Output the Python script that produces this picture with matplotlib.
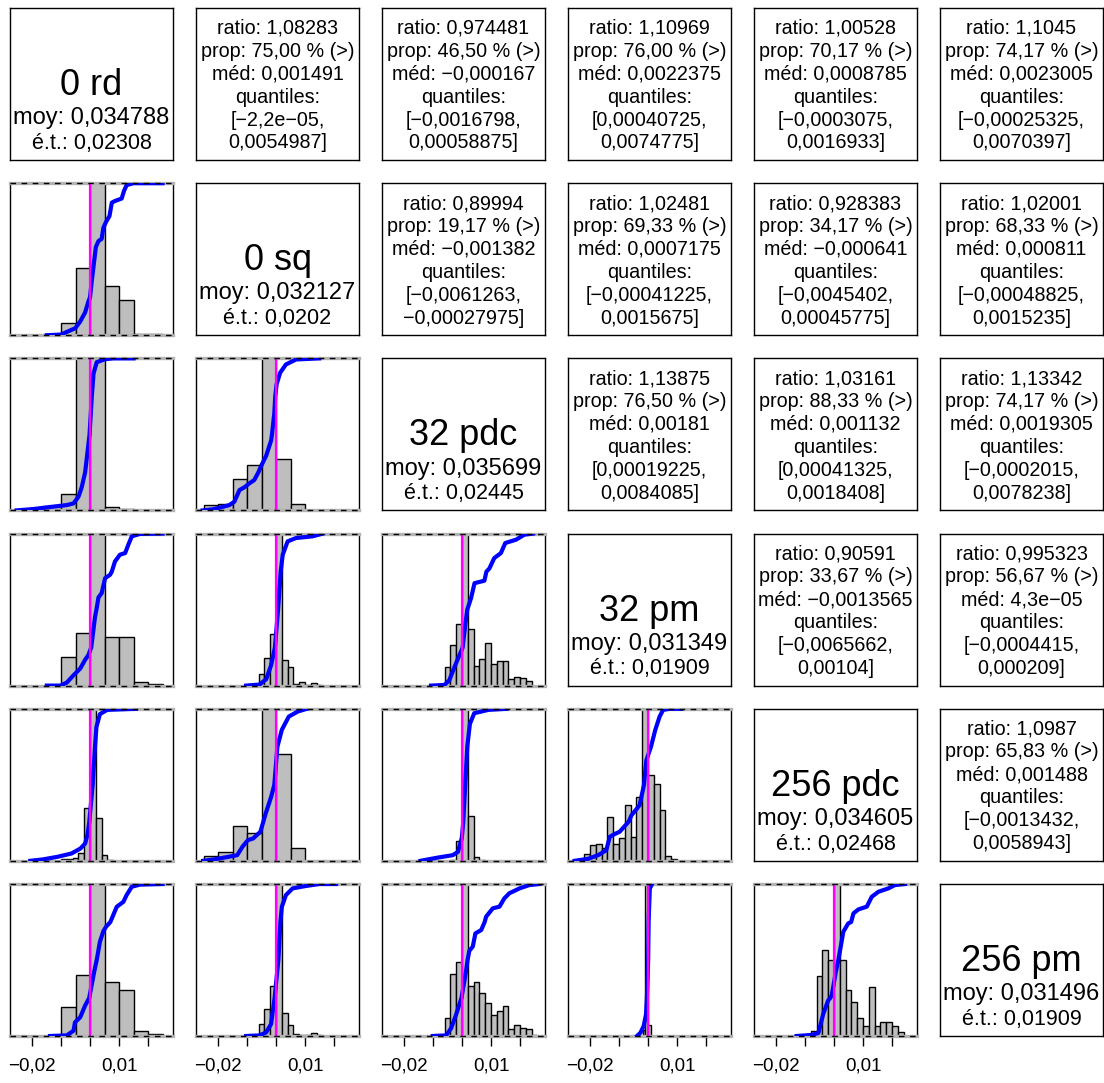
import numpy as np
import matplotlib
matplotlib.use("Agg")
import matplotlib.pyplot as plt

plt.rcParams['font.family'] = ['Liberation Sans', 'DejaVu Sans']

# diagonal: method names and summary
names = ["0 rd", "0 sq", "32 pdc", "32 pm", "256 pdc", "256 pm"]
moy = ["0,034788", "0,032127", "0,035699", "0,031349", "0,034605", "0,031496"]
ecart = ["0,02308", "0,0202", "0,02445", "0,01909", "0,02468", "0,01909"]

# upper triangle: pairwise comparisons (row, col)
pairs = [(0, 1), (0, 2), (0, 3), (0, 4), (0, 5),
         (1, 2), (1, 3), (1, 4), (1, 5),
         (2, 3), (2, 4), (2, 5),
         (3, 4), (3, 5),
         (4, 5)]
ratio = ["1,08283", "0,974481", "1,10969", "1,00528", "1,1045",
         "0,89994", "1,02481", "0,928383", "1,02001",
         "1,13875", "1,03161", "1,13342",
         "0,90591", "0,995323",
         "1,0987"]
prop = ["75,00", "46,50", "76,00", "70,17", "74,17",
        "19,17", "69,33", "34,17", "68,33",
        "76,50", "88,33", "74,17",
        "33,67", "56,67",
        "65,83"]
med = ["0,001491", "−0,000167", "0,0022375", "0,0008785", "0,0023005",
       "−0,001382", "0,0007175", "−0,000641", "0,000811",
       "0,00181", "0,001132", "0,0019305",
       "−0,0013565", "4,3e−05",
       "0,001488"]
q_low = ["−2,2e−05", "−0,0016798", "0,00040725", "−0,0003075", "−0,00025325",
         "−0,0061263", "−0,00041225", "−0,0045402", "−0,00048825",
         "0,00019225", "0,00041325", "−0,0002015",
         "−0,0065662", "−0,0004415",
         "−0,0013432"]
q_high = ["0,0054987", "0,00058875", "0,0074775", "0,0016933", "0,0070397",
          "−0,00027975", "0,0015675", "0,00045775", "0,0015235",
          "0,0084085", "0,0018408", "0,0078238",
          "0,00104", "0,000209",
          "0,0058943"]

# lower triangle: histograms (scaled heights) and empirical cdf of differences
edges_10 = [-0.01, -0.005, 0, 0.005, 0.01, 0.015, 0.02, 0.025]
heights_10 = [0.079, 0.445, 1.3, 0.326, 0.233, 0.005, 0.008]
ecdf_x_10 = [-0.0149, -0.0101, -0.0051, -0.0034, -0.0017, -0.0006, 0.0, 0.0006, 0.0015, 0.0020,
             0.0029, 0.0040, 0.0046, 0.0055, 0.0067, 0.0075, 0.0086, 0.0109, 0.0117, 0.0126, 0.0149, 0.025]
ecdf_y_10 = [0, 0.004, 0.046, 0.09, 0.15, 0.22, 0.25, 0.36, 0.50, 0.58,
             0.619, 0.634, 0.707, 0.745, 0.784, 0.872, 0.883, 0.899, 0.949, 0.987, 1.0, 1.0]

edges_20 = [-0.02, -0.015, -0.01, -0.005, 0, 0.005, 0.01, 0.015]
heights_20 = [0.011, 0.031, 0.106, 1.3, 1.3, 0.02, 0.007]
ecdf_x_20 = [-0.0253, -0.0195, -0.0149, -0.0080, -0.0057, -0.0040, -0.0029, -0.0017, -0.0009,
             -0.00017, 0.0006, 0.0012, 0.0023, 0.0052, 0.008, 0.015]
ecdf_y_20 = [0, 0.009, 0.02, 0.035, 0.046, 0.09, 0.15, 0.25, 0.38,
             0.5, 0.75, 0.9, 0.975, 0.995, 1, 1]

edges_21 = [-0.025, -0.02, -0.015, -0.01, -0.005, 0, 0.005, 0.01]
heights_21 = [0.033, 0.04, 0.205, 0.3, 1.3, 0.337, 0.04]
ecdf_x_21 = [-0.0253, -0.0218, -0.0161, -0.0144, -0.0126, -0.0109, -0.0092, -0.0075, -0.0061,
             -0.0052, -0.0034, -0.0017, -0.0014, -0.0006, -0.00028, 0.0002, 0.0014, 0.0034,
             0.0069, 0.0149]
ecdf_y_21 = [0, 0.007, 0.035, 0.057, 0.134, 0.152, 0.178, 0.2, 0.25,
             0.29, 0.36, 0.46, 0.5, 0.64, 0.75, 0.83, 0.905, 0.96,
             0.993, 1]

edges_30 = [-0.01, -0.005, 0, 0.005, 0.01, 0.015, 0.02, 0.025]
heights_30 = [0.187, 0.344, 1.3, 0.319, 0.319, 0.024, 0.011]
ecdf_x_30 = [-0.0149, -0.0103, -0.008, -0.0057, -0.0034, -0.0017, -0.0006, 0.0004, 0.0017,
             0.0022, 0.0029, 0.0040, 0.0052, 0.0069, 0.0075, 0.0086, 0.0103, 0.0121, 0.0132,
             0.0144, 0.0172, 0.025]
ecdf_y_30 = [0, 0, 0.02, 0.068, 0.112, 0.17, 0.2, 0.25, 0.45,
             0.5, 0.58, 0.608, 0.707, 0.729, 0.75, 0.817, 0.861, 0.872, 0.927,
             0.982, 0.998, 1]

edges_31 = [-0.006, -0.004, -0.002, 0, 0.002, 0.004, 0.006, 0.008, 0.010, 0.012, 0.014, 0.016]
heights_31 = [0.075, 0.183, 0.337, 1.3, 0.167, 0.123, 0.013, 0.024, 0.007, 0.02, 0.007]
ecdf_x_31 = [-0.0103, -0.0057, -0.0034, -0.0017, -0.0004, 0.0007, 0.0016, 0.0023, 0.0040,
             0.0069, 0.0126, 0.0161]
ecdf_y_31 = [0, 0.007, 0.042, 0.134, 0.25, 0.5, 0.75, 0.861, 0.949,
             0.971, 0.982, 1]

edges_32 = [-0.006, -0.004, -0.002, 0, 0.002, 0.004, 0.006, 0.008, 0.010, 0.012, 0.014,
            0.016, 0.018, 0.020, 0.022, 0.024]
heights_32 = [0.123, 0.267, 0.405, 1.3, 0.374, 0.128, 0.176, 0.278, 0.145, 0.159, 0.163,
              0.044, 0.057, 0.051, 0.031]
ecdf_x_32 = [-0.0107, -0.0061, -0.0044, -0.0026, -0.0009, 0.0002, 0.0008, 0.0018, 0.0031,
             0.0043, 0.0077, 0.0084, 0.0094, 0.0111, 0.0134, 0.0149, 0.0186, 0.0215, 0.0245]
ecdf_y_32 = [0, 0.004, 0.035, 0.123, 0.2, 0.25, 0.35, 0.5, 0.575,
             0.674, 0.69, 0.75, 0.77, 0.839, 0.872, 0.938, 0.96, 0.993, 1]

edges_40 = [-0.01, -0.008, -0.006, -0.004, -0.002, 0, 0.002, 0.004, 0.006, 0.008]
heights_40 = [0.01, 0.01, 0.02, 0.05, 0.345, 1.3, 0.279, 0.037, 0.005]
ecdf_x_40 = [-0.0206, -0.0163, -0.0113, -0.0064, -0.0033, -0.0017, -0.0009, -0.0003, 0.0009,
             0.0017, 0.0022, 0.0034, 0.0059, 0.0158]
ecdf_y_40 = [0, 0.009, 0.026, 0.048, 0.081, 0.114, 0.17, 0.25, 0.5,
             0.75, 0.88, 0.965, 0.993, 1]

edges_41 = [-0.025, -0.02, -0.015, -0.01, -0.005, 0, 0.005, 0.01]
heights_41 = [0.033, 0.057, 0.229, 0.185, 1.3, 0.701, 0.081]
ecdf_x_41 = [-0.0251, -0.0214, -0.0165, -0.0134, -0.0116, -0.0097, -0.0079, -0.0054, -0.0045,
             -0.0036, -0.0017, -0.0006, 0.00046, 0.002, 0.0044, 0.0075, 0.0106]
ecdf_y_41 = [0, 0.009, 0.026, 0.037, 0.092, 0.136, 0.147, 0.191, 0.25,
             0.31, 0.42, 0.5, 0.75, 0.862, 0.949, 0.982, 1]

edges_42 = [-0.004, -0.002, 0, 0.002, 0.004, 0.006, 0.008]
heights_42 = [0.005, 0.132, 1.3, 0.295, 0.026, 0.008]
ecdf_x_42 = [-0.0143, -0.0081, -0.0032, -0.0014, -0.0001, 0.0004, 0.0011, 0.0018, 0.0027,
             0.0042, 0.0091, 0.0153]
ecdf_y_42 = [0, 0.022, 0.037, 0.059, 0.15, 0.25, 0.5, 0.75, 0.9,
             0.971, 0.993, 1]

edges_43 = [-0.024, -0.022, -0.020, -0.018, -0.016, -0.014, -0.012, -0.010, -0.008, -0.006,
            -0.004, -0.002, 0, 0.002, 0.004, 0.006, 0.008, 0.010]
heights_43 = [0.015, 0.048, 0.101, 0.11, 0.081, 0.286, 0.108, 0.147, 0.365, 0.158,
              0.422, 1.3, 0.563, 0.505, 0.334, 0.031, 0.009]
ecdf_x_43 = [-0.0253, -0.0207, -0.0172, -0.0144, -0.0132, -0.0115, -0.0098, -0.0075, -0.0066,
             -0.0057, -0.0044, -0.0029, -0.0014, -0.0006, 0.0010, 0.0025, 0.004, 0.0052,
             0.0075, 0.0115]
ecdf_y_43 = [0, 0.013, 0.037, 0.07, 0.158, 0.176, 0.191, 0.24, 0.26,
             0.3, 0.33, 0.367, 0.5, 0.66, 0.75, 0.862, 0.949, 0.993,
             1, 1]

edges_50 = [-0.01, -0.005, 0, 0.005, 0.01, 0.015, 0.02, 0.025]
heights_50 = [0.194, 0.401, 1.3, 0.352, 0.304, 0.033, 0.013]
ecdf_x_50 = [-0.0138, -0.008, -0.0057, -0.0052, -0.0034, -0.0017, -0.0003, 0.0014, 0.0023,
             0.0034, 0.0046, 0.0055, 0.0070, 0.0092, 0.0115, 0.0126, 0.0144, 0.0172, 0.025]
ecdf_y_50 = [0, 0.004, 0.035, 0.09, 0.123, 0.2, 0.25, 0.42, 0.5,
             0.62, 0.69, 0.718, 0.75, 0.85, 0.883, 0.927, 0.982, 0.996, 1]

edges_51 = [-0.006, -0.004, -0.002, 0, 0.002, 0.004, 0.006, 0.008, 0.010, 0.012, 0.014, 0.016]
heights_51 = [0.079, 0.176, 0.33, 1.3, 0.15, 0.07, 0.013, 0.009, 0.005, 0.02, 0.005]
ecdf_x_51 = [-0.0103, -0.0057, -0.0034, -0.0017, -0.0005, 0.0008, 0.0015, 0.0020, 0.0034,
             0.0057, 0.0103, 0.0149, 0.0207]
ecdf_y_51 = [0, 0.004, 0.024, 0.079, 0.25, 0.5, 0.75, 0.85, 0.927,
             0.971, 0.987, 1, 1]

edges_52 = [-0.006, -0.004, -0.002, 0, 0.002, 0.004, 0.006, 0.008, 0.010, 0.012, 0.014,
            0.016, 0.018, 0.020, 0.022, 0.024, 0.026]
heights_52 = [0.116, 0.408, 0.489, 1.3, 0.331, 0.357, 0.285, 0.215, 0.138, 0.164, 0.195,
              0.044, 0.072, 0.055, 0.046, 0.007]
ecdf_x_52 = [-0.0101, -0.0055, -0.0038, -0.0021, -0.0002, 0.0014, 0.0019, 0.0025, 0.0037,
             0.0046, 0.0066, 0.0078, 0.0083, 0.0106, 0.0129, 0.0146, 0.0163, 0.0198,
             0.0232, 0.0267]
ecdf_y_52 = [0, 0.004, 0.05, 0.138, 0.25, 0.43, 0.5, 0.56, 0.588,
             0.675, 0.697, 0.75, 0.785, 0.84, 0.851, 0.906, 0.939, 0.971,
             0.993, 1]

edges_53 = [-0.0018, -0.0009, 0, 0.0009]
heights_53 = [0.04, 1.5, 0.073]
ecdf_x_53 = [-0.0038, -0.0026, -0.0015, -0.0007, -0.0004, 0.00004, 0.0002, 0.0006, 0.0014]
ecdf_y_53 = [0, 0.022, 0.066, 0.143, 0.25, 0.5, 0.75, 0.97, 1]

edges_54 = [-0.008, -0.006, -0.004, -0.002, 0, 0.002, 0.004, 0.006, 0.008, 0.010, 0.012,
            0.014, 0.016, 0.018, 0.020, 0.022, 0.024]
heights_54 = [0.031, 0.393, 0.565, 0.503, 1.3, 0.499, 0.305, 0.226, 0.116, 0.066, 0.323,
              0.066, 0.095, 0.095, 0.066, 0.024]
ecdf_x_54 = [-0.0129, -0.0077, -0.0054, -0.0037, -0.0020, -0.0013, -0.0008, 0.0006, 0.0015,
             0.0032, 0.0049, 0.0059, 0.0067, 0.0084, 0.0113, 0.013, 0.0153, 0.0187, 0.021,
             0.0245]
ecdf_y_54 = [0, 0.007, 0.02, 0.147, 0.235, 0.25, 0.268, 0.42, 0.5,
             0.686, 0.741, 0.75, 0.807, 0.833, 0.851, 0.916, 0.949, 0.971, 0.993,
             1]

lower = {
    (1, 0): (edges_10, heights_10, ecdf_x_10, ecdf_y_10),
    (2, 0): (edges_20, heights_20, ecdf_x_20, ecdf_y_20),
    (2, 1): (edges_21, heights_21, ecdf_x_21, ecdf_y_21),
    (3, 0): (edges_30, heights_30, ecdf_x_30, ecdf_y_30),
    (3, 1): (edges_31, heights_31, ecdf_x_31, ecdf_y_31),
    (3, 2): (edges_32, heights_32, ecdf_x_32, ecdf_y_32),
    (4, 0): (edges_40, heights_40, ecdf_x_40, ecdf_y_40),
    (4, 1): (edges_41, heights_41, ecdf_x_41, ecdf_y_41),
    (4, 2): (edges_42, heights_42, ecdf_x_42, ecdf_y_42),
    (4, 3): (edges_43, heights_43, ecdf_x_43, ecdf_y_43),
    (5, 0): (edges_50, heights_50, ecdf_x_50, ecdf_y_50),
    (5, 1): (edges_51, heights_51, ecdf_x_51, ecdf_y_51),
    (5, 2): (edges_52, heights_52, ecdf_x_52, ecdf_y_52),
    (5, 3): (edges_53, heights_53, ecdf_x_53, ecdf_y_53),
    (5, 4): (edges_54, heights_54, ecdf_x_54, ecdf_y_54),
}

x_ticks = [-0.02, -0.01, 0.0, 0.01, 0.02]
x_ticklabels = ["−0,02", "", "", "0,01", ""]

W, H = 1104, 1083
fig = plt.figure(figsize=(W / 100, H / 100), dpi=100)


def make_panel(r, c):
    left = (10 + 186 * c) / W
    bottom = 1 - (8 + 175.2 * r + 152) / H
    ax = fig.add_axes([left, bottom, 163 / W, 152 / H])
    for s in ax.spines.values():
        s.set_linewidth(1.0)
    ax.set_xticks([])
    ax.set_yticks([])
    return ax


n = len(names)
# diagonal
for i in range(n):
    ax = make_panel(i, i)
    ax.text(0.5, 0.49, names[i], ha='center', va='center', fontsize=26, transform=ax.transAxes)
    ax.text(0.5, 0.275, "moy: " + moy[i], ha='center', va='center', fontsize=17, transform=ax.transAxes)
    ax.text(0.5, 0.11, "é.t.: " + ecart[i], ha='center', va='center', fontsize=15.5, transform=ax.transAxes)

# upper triangle, one line at a time
line_y = [0.866, 0.716, 0.566, 0.414, 0.263, 0.112]
for k, (i, j) in enumerate(pairs):
    ax = make_panel(i, j)
    lines = [
        "ratio: " + ratio[k],
        "prop: " + prop[k] + " % (>)",
        "méd: " + med[k],
        "quantiles:",
        "[" + q_low[k] + ",",
        q_high[k] + "]",
    ]
    for yy, s in zip(line_y, lines):
        ax.text(0.5, yy, s, ha='center', va='center', fontsize=14.2, transform=ax.transAxes)

# lower triangle
for (i, j), (edges, heights, ex, ey) in lower.items():
    ax = make_panel(i, j)
    ax.set_xlim(-0.0276, 0.0286)
    ax.set_ylim(0, 1)
    edges = np.array(edges)
    ax.bar(edges[:-1], heights, width=np.diff(edges), align='edge',
           color='#bebebe', edgecolor='black', linewidth=1.0, zorder=2)
    for yv in (0, 1):
        ax.axhline(yv, color='#b3b3b3', lw=2.4, zorder=3, clip_on=False)
    ax.plot(ex, ey, color='#0000ff', lw=3, zorder=4, solid_joinstyle='round')
    ax.axvline(0, color='#ff00ff', lw=1.6, zorder=5)
    for yv in (0, 1):
        ax.axhline(yv, color='black', lw=1.0, ls=(0, (4, 4)), zorder=6, clip_on=False)
    if i == n - 1:
        ax.set_xticks(x_ticks)
        ax.set_xticklabels(x_ticklabels, fontsize=13.5)
        ax.tick_params(axis='x', length=7.5, width=1.0, pad=8)

fig.savefig("out.png", dpi=100)
